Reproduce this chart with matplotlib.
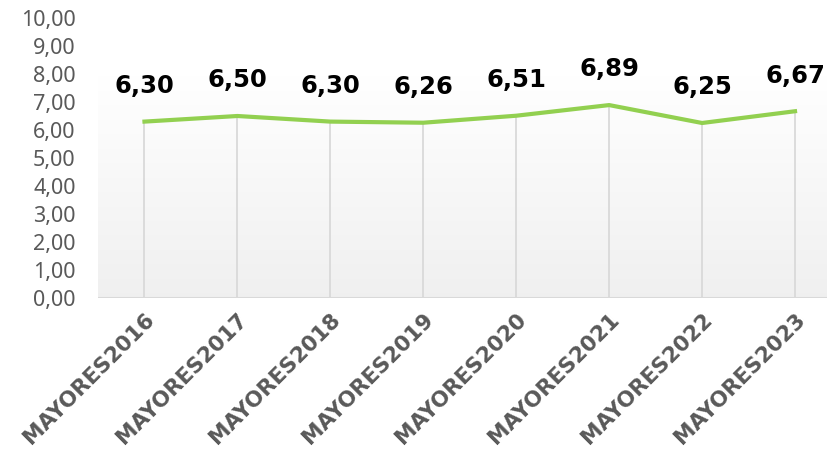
import numpy as np
import matplotlib
matplotlib.use("Agg")
import matplotlib.pyplot as plt

categories = ["MAYORES2016", "MAYORES2017", "MAYORES2018", "MAYORES2019",
              "MAYORES2020", "MAYORES2021", "MAYORES2022", "MAYORES2023"]
values = [6.30, 6.50, 6.30, 6.26, 6.51, 6.89, 6.25, 6.67]
yticks = [0, 1, 2, 3, 4, 5, 6, 7, 8, 9, 10]

plt.rcParams['font.family'] = ['Noto Sans', 'DejaVu Sans']
BOLD = ['DejaVu Sans']

fig = plt.figure(figsize=(8.28, 4.72), dpi=100)
ax = fig.add_axes([98 / 828, (472 - 298) / 472, 1 - 98 / 828, 280 / 472])

x = np.arange(len(categories))
xmax = 7 + (828 - 795) / 93.0

# soft gradient plot area (white at top, light grey at bottom)
t = np.linspace(0, 1, 256).reshape(-1, 1, 1)
top = np.array([1.0, 1.0, 1.0])
bot = np.array([0.94, 0.94, 0.94])
grad = top * (1 - t) + bot * t
ax.imshow(grad, extent=[-0.5, xmax, 0, 7.9], aspect='auto',
          origin='upper', zorder=0)

ax.vlines(x, 0, values, color='#d9d9d9', lw=1.3, zorder=1)
ax.axhline(0, color='#d9d9d9', lw=1.5, zorder=1)
ax.plot(x, values, color='#92d050', lw=3, solid_joinstyle='round', zorder=3)

for xi, v in zip(x, values):
    ax.annotate(f"{v:.2f}".replace('.', ','), (xi, v), xytext=(0, 17),
                textcoords='offset points', ha='center', va='bottom',
                fontsize=17.5, fontweight='bold', family=BOLD, color='black')

ax.set_xlim(-0.5, xmax)
ax.set_ylim(0, 10)
ax.set_yticks(yticks)
ax.set_yticklabels([f"{t:.2f}".replace('.', ',') for t in yticks],
                   fontsize=15.5, color='#595959')
ax.set_xticks(x)
ax.set_xticklabels(categories, rotation=45, ha='right', rotation_mode='anchor',
                   fontsize=15.5, fontweight='bold', family=BOLD, color='#595959')
ax.tick_params(length=0, pad=8)
ax.tick_params(axis='y', pad=16)
for s in ax.spines.values():
    s.set_visible(False)

fig.savefig("out.png", dpi=100)
